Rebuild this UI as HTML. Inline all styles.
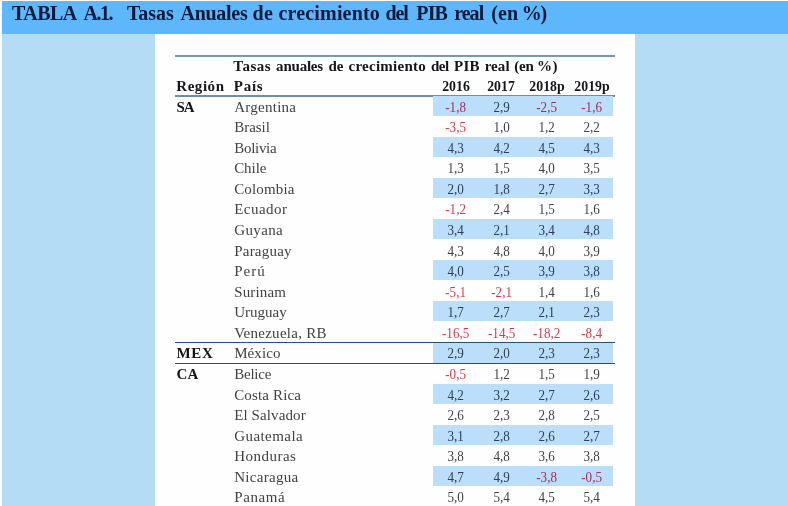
<!DOCTYPE html>
<html lang="es"><head><meta charset="utf-8"><title>TABLA A.1. Tasas Anuales de crecimiento del PIB real (en %)</title>
<style>
html,body,h1,h2,p{margin:0;padding:0;font-weight:normal;font-size:inherit}
body{width:788px;height:506px;overflow:hidden;background:#fdffff;position:relative;font-family:"Liberation Serif","DejaVu Serif",serif;}
#bg{position:absolute;left:2px;top:1px;width:786px;height:505px;background:#b4dcf5}
#hdr{position:absolute;left:2px;top:1px;width:786px;height:32.5px;background:#5fb7fb}
#panel{position:absolute;left:155px;top:33.5px;width:480px;height:473px;background:#fefefe}
.L{position:absolute;left:0;white-space:nowrap;line-height:20px;height:20px;font-size:15px;word-spacing:-0.25em}
.L>span{display:inline-block;word-spacing:0;vertical-align:top;height:20px}
.v{width:45.25px;font-size:14.25px;line-height:21px;text-align:center;transform-origin:50% 50%;transform:scaleX(0.92)}
.y{width:60px;text-align:center;transform-origin:50% 50%;transform:scaleX(0.92)}
#title{font-size:20px;line-height:26px;height:26px;color:#0e1a3c;font-weight:bold}
#title>span{height:26px}
.b{font-weight:bold;color:#15151a}
.n{color:#424242}
.r{color:#d23c47}
.rs{color:#a0305e}
.ns{color:#2d4059}
.ln{position:absolute;left:175px;width:439.5px}
.st{position:absolute;left:433px;width:180.3px;background:#bbdefb}
</style></head><body>
<div id="bg"></div><div id="hdr"></div><div id="panel"></div>
<h1 class="L" id="title" style="top:-0.25px"><span style="margin-left:12.10px;letter-spacing:-0.600px">TABLA</span> <span style="margin-left:6.98px;letter-spacing:-1.467px">A.1.</span> <span style="margin-left:14.81px;letter-spacing:-0.050px">Tasas</span> <span style="margin-left:6.77px;letter-spacing:-0.283px">Anuales</span> <span style="margin-left:5.18px;letter-spacing:0.300px">de</span> <span style="margin-left:5.40px;letter-spacing:0.160px">crecimiento</span> <span style="margin-left:5.55px;letter-spacing:-1.150px">del</span> <span style="margin-left:8.79px;letter-spacing:-0.900px">PIB</span> <span style="margin-left:7.16px;letter-spacing:-0.967px">real</span> <span style="margin-left:8.11px;letter-spacing:0.000px">(en</span> <span style="margin-left:3.83px;letter-spacing:-1.300px">%)</span></h1>
<div class="ln" style="top:55px;height:2px;background:#7b9aa8"></div>
<div class="ln" style="top:94.9px;height:1.9px;background:#6a8fa6"></div>
<h2 class="L b" style="top:56.10px"><span style="margin-left:233.30px;letter-spacing:0.500px">Tasas</span> <span style="margin-left:4.99px;letter-spacing:-0.217px">anuales</span> <span style="margin-left:5.66px;letter-spacing:-0.300px">de</span> <span style="margin-left:5.50px;letter-spacing:0.260px">crecimiento</span> <span style="margin-left:5.05px;letter-spacing:-0.600px">del</span> <span style="margin-left:5.53px;letter-spacing:0.300px">PIB</span> <span style="margin-left:4.78px;letter-spacing:0.067px">real</span> <span style="margin-left:4.61px;letter-spacing:-0.150px">(en</span> <span style="margin-left:3.15px;letter-spacing:0.600px">%)</span></h2>
<p class="L b" style="top:75.80px"><span style="margin-left:176.30px;letter-spacing:0.540px">Región</span> <span style="margin-left:9.26px;letter-spacing:0.733px">País</span> <span class="y" style="margin-left:162.69px;width:60.00px;">2016</span> <span class="y" style="margin-left:-14.70px;width:60.00px;">2017</span> <span class="y" style="margin-left:-14.40px;width:60.00px;">2018p</span> <span class="y" style="margin-left:-15.30px;width:60.00px;">2019p</span></p>
<div class="st" style="top:95.55px;height:20.1px"></div>
<p class="L n" style="top:96.60px"><span class="b" style="margin-left:176.50px;letter-spacing:-1.000px">SA</span> <span style="margin-left:40.51px;letter-spacing:0.263px">Argentina</span> <span class="v rs" style="margin-left:137.12px;width:45.25px;">-1,8</span> <span class="v ns" style="margin-left:0.00px;width:45.25px;">2,9</span> <span class="v rs" style="margin-left:0.00px;width:45.25px;">-2,5</span> <span class="v rs" style="margin-left:0.00px;width:45.25px;">-1,6</span></p>
<p class="L n" style="top:117.17px"><span style="margin-left:234.20px;letter-spacing:-0.020px">Brasil</span> <span class="v r" style="margin-left:163.48px;width:45.25px;">-3,5</span> <span class="v" style="margin-left:0.00px;width:45.25px;">1,0</span> <span class="v" style="margin-left:0.00px;width:45.25px;">1,2</span> <span class="v" style="margin-left:0.00px;width:45.25px;">2,2</span></p>
<div class="st" style="top:136.69px;height:20.1px"></div>
<p class="L n" style="top:137.74px"><span style="margin-left:234.20px;letter-spacing:-0.283px">Bolivia</span> <span class="v ns" style="margin-left:157.01px;width:45.25px;">4,3</span> <span class="v ns" style="margin-left:0.00px;width:45.25px;">4,2</span> <span class="v ns" style="margin-left:0.00px;width:45.25px;">4,5</span> <span class="v ns" style="margin-left:0.00px;width:45.25px;">4,3</span></p>
<p class="L n" style="top:158.31px"><span style="margin-left:234.20px;letter-spacing:-0.075px">Chile</span> <span class="v" style="margin-left:167.07px;width:45.25px;">1,3</span> <span class="v" style="margin-left:0.00px;width:45.25px;">1,5</span> <span class="v" style="margin-left:0.00px;width:45.25px;">4,0</span> <span class="v" style="margin-left:0.00px;width:45.25px;">3,5</span></p>
<div class="st" style="top:177.83px;height:20.1px"></div>
<p class="L n" style="top:178.88px"><span style="margin-left:234.20px;letter-spacing:0.143px">Colombia</span> <span class="v ns" style="margin-left:138.89px;width:45.25px;">2,0</span> <span class="v ns" style="margin-left:0.00px;width:45.25px;">1,8</span> <span class="v ns" style="margin-left:0.00px;width:45.25px;">2,7</span> <span class="v ns" style="margin-left:0.00px;width:45.25px;">3,3</span></p>
<p class="L n" style="top:199.45px"><span style="margin-left:234.20px;letter-spacing:0.467px">Ecuador</span> <span class="v r" style="margin-left:145.95px;width:45.25px;">-1,2</span> <span class="v" style="margin-left:0.00px;width:45.25px;">2,4</span> <span class="v" style="margin-left:0.00px;width:45.25px;">1,5</span> <span class="v" style="margin-left:0.00px;width:45.25px;">1,6</span></p>
<div class="st" style="top:218.97px;height:20.1px"></div>
<p class="L n" style="top:220.02px"><span style="margin-left:234.20px;letter-spacing:0.380px">Guyana</span> <span class="v ns" style="margin-left:150.26px;width:45.25px;">3,4</span> <span class="v ns" style="margin-left:0.00px;width:45.25px;">2,1</span> <span class="v ns" style="margin-left:0.00px;width:45.25px;">3,4</span> <span class="v ns" style="margin-left:0.00px;width:45.25px;">4,8</span></p>
<p class="L n" style="top:240.59px"><span style="margin-left:234.20px;letter-spacing:0.229px">Paraguay</span> <span class="v" style="margin-left:141.56px;width:45.25px;">4,3</span> <span class="v" style="margin-left:0.00px;width:45.25px;">4,8</span> <span class="v" style="margin-left:0.00px;width:45.25px;">4,0</span> <span class="v" style="margin-left:0.00px;width:45.25px;">3,9</span></p>
<div class="st" style="top:260.11px;height:20.1px"></div>
<p class="L n" style="top:261.16px"><span style="margin-left:234.20px;letter-spacing:1.000px">Perú</span> <span class="v ns" style="margin-left:167.70px;width:45.25px;">4,0</span> <span class="v ns" style="margin-left:0.00px;width:45.25px;">2,5</span> <span class="v ns" style="margin-left:0.00px;width:45.25px;">3,9</span> <span class="v ns" style="margin-left:0.00px;width:45.25px;">3,8</span></p>
<p class="L n" style="top:281.73px"><span style="margin-left:234.20px;letter-spacing:0.150px">Surinam</span> <span class="v r" style="margin-left:147.31px;width:45.25px;">-5,1</span> <span class="v r" style="margin-left:0.00px;width:45.25px;">-2,1</span> <span class="v" style="margin-left:0.00px;width:45.25px;">1,4</span> <span class="v" style="margin-left:0.00px;width:45.25px;">1,6</span></p>
<div class="st" style="top:301.25px;height:20.1px"></div>
<p class="L n" style="top:302.30px"><span style="margin-left:234.20px;letter-spacing:0.017px">Uruguay</span> <span class="v ns" style="margin-left:146.58px;width:45.25px;">1,7</span> <span class="v ns" style="margin-left:0.00px;width:45.25px;">2,7</span> <span class="v ns" style="margin-left:0.00px;width:45.25px;">2,1</span> <span class="v ns" style="margin-left:0.00px;width:45.25px;">2,3</span></p>
<p class="L n" style="top:322.87px"><span style="margin-left:234.20px;letter-spacing:0.258px">Venezuela, RB</span> <span class="v r" style="margin-left:106.70px;width:45.25px;">-16,5</span> <span class="v r" style="margin-left:0.00px;width:45.25px;">-14,5</span> <span class="v r" style="margin-left:0.00px;width:45.25px;">-18,2</span> <span class="v r" style="margin-left:0.00px;width:45.25px;">-8,4</span></p>
<div class="st" style="top:342.39px;height:20.4px"></div>
<p class="L n" style="top:343.44px"><span class="b" style="margin-left:176.50px;letter-spacing:0.650px">MEX</span> <span style="margin-left:20.75px;letter-spacing:0.080px">México</span> <span class="v ns" style="margin-left:152.89px;width:45.25px;">2,9</span> <span class="v ns" style="margin-left:0.00px;width:45.25px;">2,0</span> <span class="v ns" style="margin-left:0.00px;width:45.25px;">2,3</span> <span class="v ns" style="margin-left:0.00px;width:45.25px;">2,3</span></p>
<p class="L n" style="top:364.01px"><span class="b" style="margin-left:176.50px;letter-spacing:0.100px">CA</span> <span style="margin-left:35.83px;letter-spacing:-0.240px">Belice</span> <span class="v r" style="margin-left:162.31px;width:45.25px;">-0,5</span> <span class="v" style="margin-left:0.00px;width:45.25px;">1,2</span> <span class="v" style="margin-left:0.00px;width:45.25px;">1,5</span> <span class="v" style="margin-left:0.00px;width:45.25px;">1,9</span></p>
<div class="st" style="top:383.53px;height:20.1px"></div>
<p class="L n" style="top:384.58px"><span style="margin-left:234.20px;letter-spacing:0.156px">Costa Rica</span> <span class="v ns" style="margin-left:132.24px;width:45.25px;">4,2</span> <span class="v ns" style="margin-left:0.00px;width:45.25px;">3,2</span> <span class="v ns" style="margin-left:0.00px;width:45.25px;">2,7</span> <span class="v ns" style="margin-left:0.00px;width:45.25px;">2,6</span></p>
<p class="L n" style="top:405.15px"><span style="margin-left:234.20px;letter-spacing:0.110px">El Salvador</span> <span class="v" style="margin-left:127.58px;width:45.25px;">2,6</span> <span class="v" style="margin-left:0.00px;width:45.25px;">2,3</span> <span class="v" style="margin-left:0.00px;width:45.25px;">2,8</span> <span class="v" style="margin-left:0.00px;width:45.25px;">2,5</span></p>
<div class="st" style="top:424.67px;height:20.1px"></div>
<p class="L n" style="top:425.72px"><span style="margin-left:234.20px;letter-spacing:0.438px">Guatemala</span> <span class="v ns" style="margin-left:130.29px;width:45.25px;">3,1</span> <span class="v ns" style="margin-left:0.00px;width:45.25px;">2,8</span> <span class="v ns" style="margin-left:0.00px;width:45.25px;">2,6</span> <span class="v ns" style="margin-left:0.00px;width:45.25px;">2,7</span></p>
<p class="L n" style="top:446.29px"><span style="margin-left:234.20px;letter-spacing:0.486px">Honduras</span> <span class="v" style="margin-left:136.99px;width:45.25px;">3,8</span> <span class="v" style="margin-left:0.00px;width:45.25px;">4,8</span> <span class="v" style="margin-left:0.00px;width:45.25px;">3,6</span> <span class="v" style="margin-left:0.00px;width:45.25px;">3,8</span></p>
<div class="st" style="top:465.81px;height:20.1px"></div>
<p class="L n" style="top:466.86px"><span style="margin-left:234.20px;letter-spacing:0.288px">Nicaragua</span> <span class="v ns" style="margin-left:134.97px;width:45.25px;">4,7</span> <span class="v ns" style="margin-left:0.00px;width:45.25px;">4,9</span> <span class="v rs" style="margin-left:0.00px;width:45.25px;">-3,8</span> <span class="v rs" style="margin-left:0.00px;width:45.25px;">-0,5</span></p>
<p class="L n" style="top:487.43px"><span style="margin-left:234.20px;letter-spacing:0.600px">Panamá</span> <span class="v" style="margin-left:148.12px;width:45.25px;">5,0</span> <span class="v" style="margin-left:0.00px;width:45.25px;">5,4</span> <span class="v" style="margin-left:0.00px;width:45.25px;">4,5</span> <span class="v" style="margin-left:0.00px;width:45.25px;">5,4</span></p>
<div class="ln" style="top:341.95px;height:1.35px;background:#24507f"></div>
<div class="ln" style="top:362.65px;height:1.4px;background:#24507f"></div>
</body></html>
